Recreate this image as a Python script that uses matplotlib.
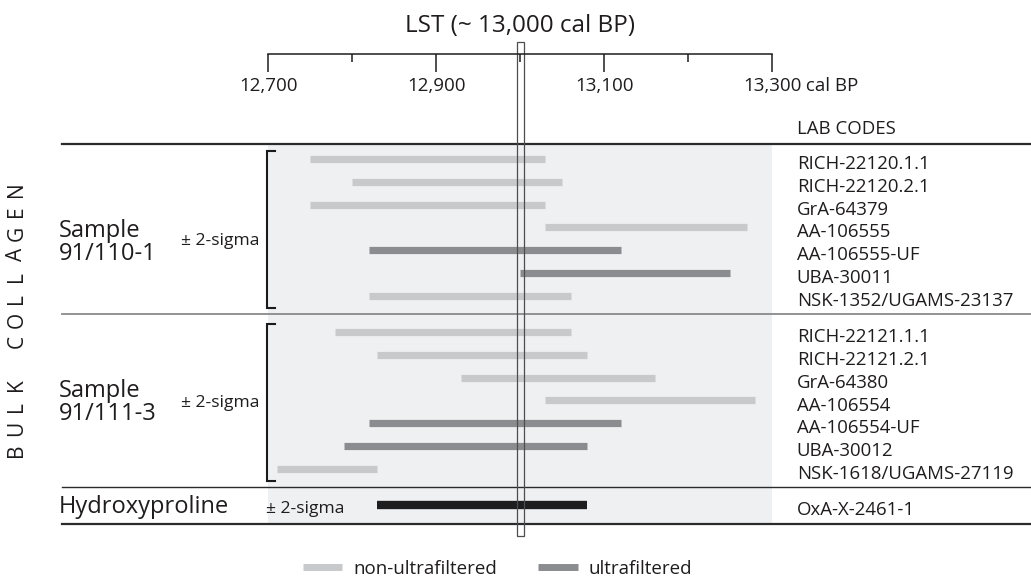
import matplotlib
matplotlib.use("Agg")
import matplotlib.pyplot as plt
import numpy as np
from matplotlib.lines import Line2D
from matplotlib.patches import Rectangle
from matplotlib.transforms import blended_transform_factory

plt.rcParams['font.family'] = ['Open Sans', 'DejaVu Sans']

# calibrated ranges (cal BP, +/- 2 sigma)
codes_110 = ["RICH-22120.1.1", "RICH-22120.2.1", "GrA-64379", "AA-106555",
             "AA-106555-UF", "UBA-30011", "NSK-1352/UGAMS-23137"]
start_110 = [12750, 12800, 12750, 13030, 12820, 13000, 12820]
end_110 = [13030, 13050, 13030, 13270, 13120, 13250, 13060]
uf_110 = [False, False, False, False, True, True, False]

codes_111 = ["RICH-22121.1.1", "RICH-22121.2.1", "GrA-64380", "AA-106554",
             "AA-106554-UF", "UBA-30012", "NSK-1618/UGAMS-27119"]
start_111 = [12780, 12830, 12930, 13030, 12820, 12790, 12710]
end_111 = [13060, 13080, 13160, 13280, 13120, 13080, 12830]
uf_111 = [False, False, False, False, True, True, False]

hyp_code = "OxA-X-2461-1"
hyp_start = 12830
hyp_end = 13080

lst_age = 13000
ticks_major = [12700, 12900, 13100, 13300]
ticks_minor = [12800, 13000, 13200]

INK = '#1f1c1d'
LIGHT = '#c8c9cb'
DARK = '#8b8c8f'
BLACK = '#1e1e1e'
SHADE = '#eff0f2'

W, H = 1031, 577
fig = plt.figure(figsize=(W / 100, H / 100), dpi=100)


def fx(px):
    return px / W


def fy(py):
    return 1 - py / H


x0, x1 = 268.3, 772.3
ax = fig.add_axes([fx(x0), fy(523.5), fx(x1) - fx(x0), (523.5 - 143.5) / H])
ax.set_xlim(12700, 13300)
ax.set_ylim(16.0, -0.68)
ax.set_facecolor(SHADE)
for s in ax.spines.values():
    s.set_visible(False)
ax.set_xticks([])
ax.set_yticks([])

rows_110 = np.arange(7)
rows_111 = rows_110 + 7.6
row_hyp = 15.2

# bars
for rows, st, en, uf in [(rows_110, start_110, end_110, uf_110),
                         (rows_111, start_111, end_111, uf_111)]:
    cols = [DARK if u else LIGHT for u in uf]
    ax.hlines(rows, st, en, colors=cols, lw=5.2, capstyle='butt', zorder=3)
ax.hlines(row_hyp, hyp_start, hyp_end, colors=BLACK, lw=6, capstyle='butt', zorder=3)

# LST marker
ax.add_patch(Rectangle((lst_age - 4.4, -5.15), 8.8, 21.7, fill=False,
                       ec='#4d4d4d', lw=0.9, clip_on=False, zorder=5))

trans = blended_transform_factory(fig.transFigure, ax.transData)

# horizontal rules
for y, c, lw in [(-0.68, '#2b2b2b', 1.6), (6.8, '#8a8a8a', 1.3),
                 (14.4, '#2b2b2b', 1.0), (16.0, '#2b2b2b', 1.6)]:
    ax.add_line(Line2D([fx(61.7), 1], [y, y], transform=trans, color=c,
                       lw=lw, clip_on=False, zorder=4))

# brackets
for top, bot in [(rows_110[0] - 0.36, rows_110[-1] + 0.56),
                 (rows_111[0] - 0.36, rows_111[-1] + 0.52)]:
    ax.add_line(Line2D([fx(275), fx(267), fx(267), fx(275)], [top, top, bot, bot],
                       transform=trans, color='#1a1a1a', lw=1.5, clip_on=False,
                       solid_joinstyle='miter'))

# lab codes
for rows, codes in [(rows_110, codes_110), (rows_111, codes_111),
                    ([row_hyp], [hyp_code])]:
    for r, c in zip(rows, codes):
        ax.text(fx(796.7), r + 0.44, c, transform=trans, fontsize=13.4,
                color=INK, va='baseline', ha='left')

# left labels
fig.text(fx(59), fy(236.7), "Sample", fontsize=17, color=INK, va='baseline')
fig.text(fx(59), fy(260), "91/110-1", fontsize=17, color=INK, va='baseline')
fig.text(fx(59), fy(396.7), "Sample", fontsize=17, color=INK, va='baseline')
fig.text(fx(59), fy(420), "91/111-3", fontsize=17, color=INK, va='baseline')
fig.text(fx(59), fy(513), "Hydroxyproline", fontsize=17, color=INK, va='baseline')
fig.text(fx(181), fy(245), "± 2-sigma", fontsize=12.6, color=INK, va='baseline')
fig.text(fx(181), fy(406.7), "± 2-sigma", fontsize=12.6, color=INK, va='baseline')
fig.text(fx(266), fy(513), "± 2-sigma", fontsize=12.6, color=INK, va='baseline')

# spaced-out vertical group label
side = "BULK COLLAGEN"
for k, ch in enumerate(side):
    fig.text(fx(17), fy(450 - 21.7 * k), ch, fontsize=15, color=INK,
             rotation=90, ha='center', va='center')

fig.text(fx(796.7), fy(134), "LAB CODES", fontsize=13.4, color=INK, va='baseline')
fig.text(fx(520), fy(31.7), "LST (~ 13,000 cal BP)", fontsize=17.5, color=INK,
         ha='center', va='baseline')

# top time axis
axt = fig.add_axes([fx(x0), fy(54), fx(x1) - fx(x0), 0.001])
axt.set_xlim(12700, 13300)
axt.patch.set_visible(False)
for k in ['top', 'left', 'right']:
    axt.spines[k].set_visible(False)
axt.spines['bottom'].set_color(INK)
axt.spines['bottom'].set_linewidth(1.1)
axt.set_yticks([])
axt.set_xticks(ticks_major, labels=[f"{t:,}" for t in ticks_major])
axt.set_xticks(ticks_minor, minor=True)
axt.tick_params(axis='x', which='major', length=12.7, width=1.1, pad=4,
                labelsize=13.5, colors=INK)
axt.tick_params(axis='x', which='minor', length=5.5, width=1.1, colors=INK)
last = axt.get_xticklabels()[-1]
axt.annotate(" cal BP", xy=(1, 0), xycoords=last, ha='left', va='bottom',
             fontsize=13.5, color=INK)

# legend
handles = [Line2D([], [], color=LIGHT, lw=5, solid_capstyle='butt'),
           Line2D([], [], color=DARK, lw=5, solid_capstyle='butt')]
fig.legend(handles, ["non-ultrafiltered", "ultrafiltered"], loc='center',
           bbox_to_anchor=(fx(497.5), fy(569)), ncol=2, frameon=False,
           fontsize=13.5, handlelength=2.1, handletextpad=0.6, columnspacing=2.2,
           labelcolor=INK)

fig.savefig("out.png", dpi=100)
